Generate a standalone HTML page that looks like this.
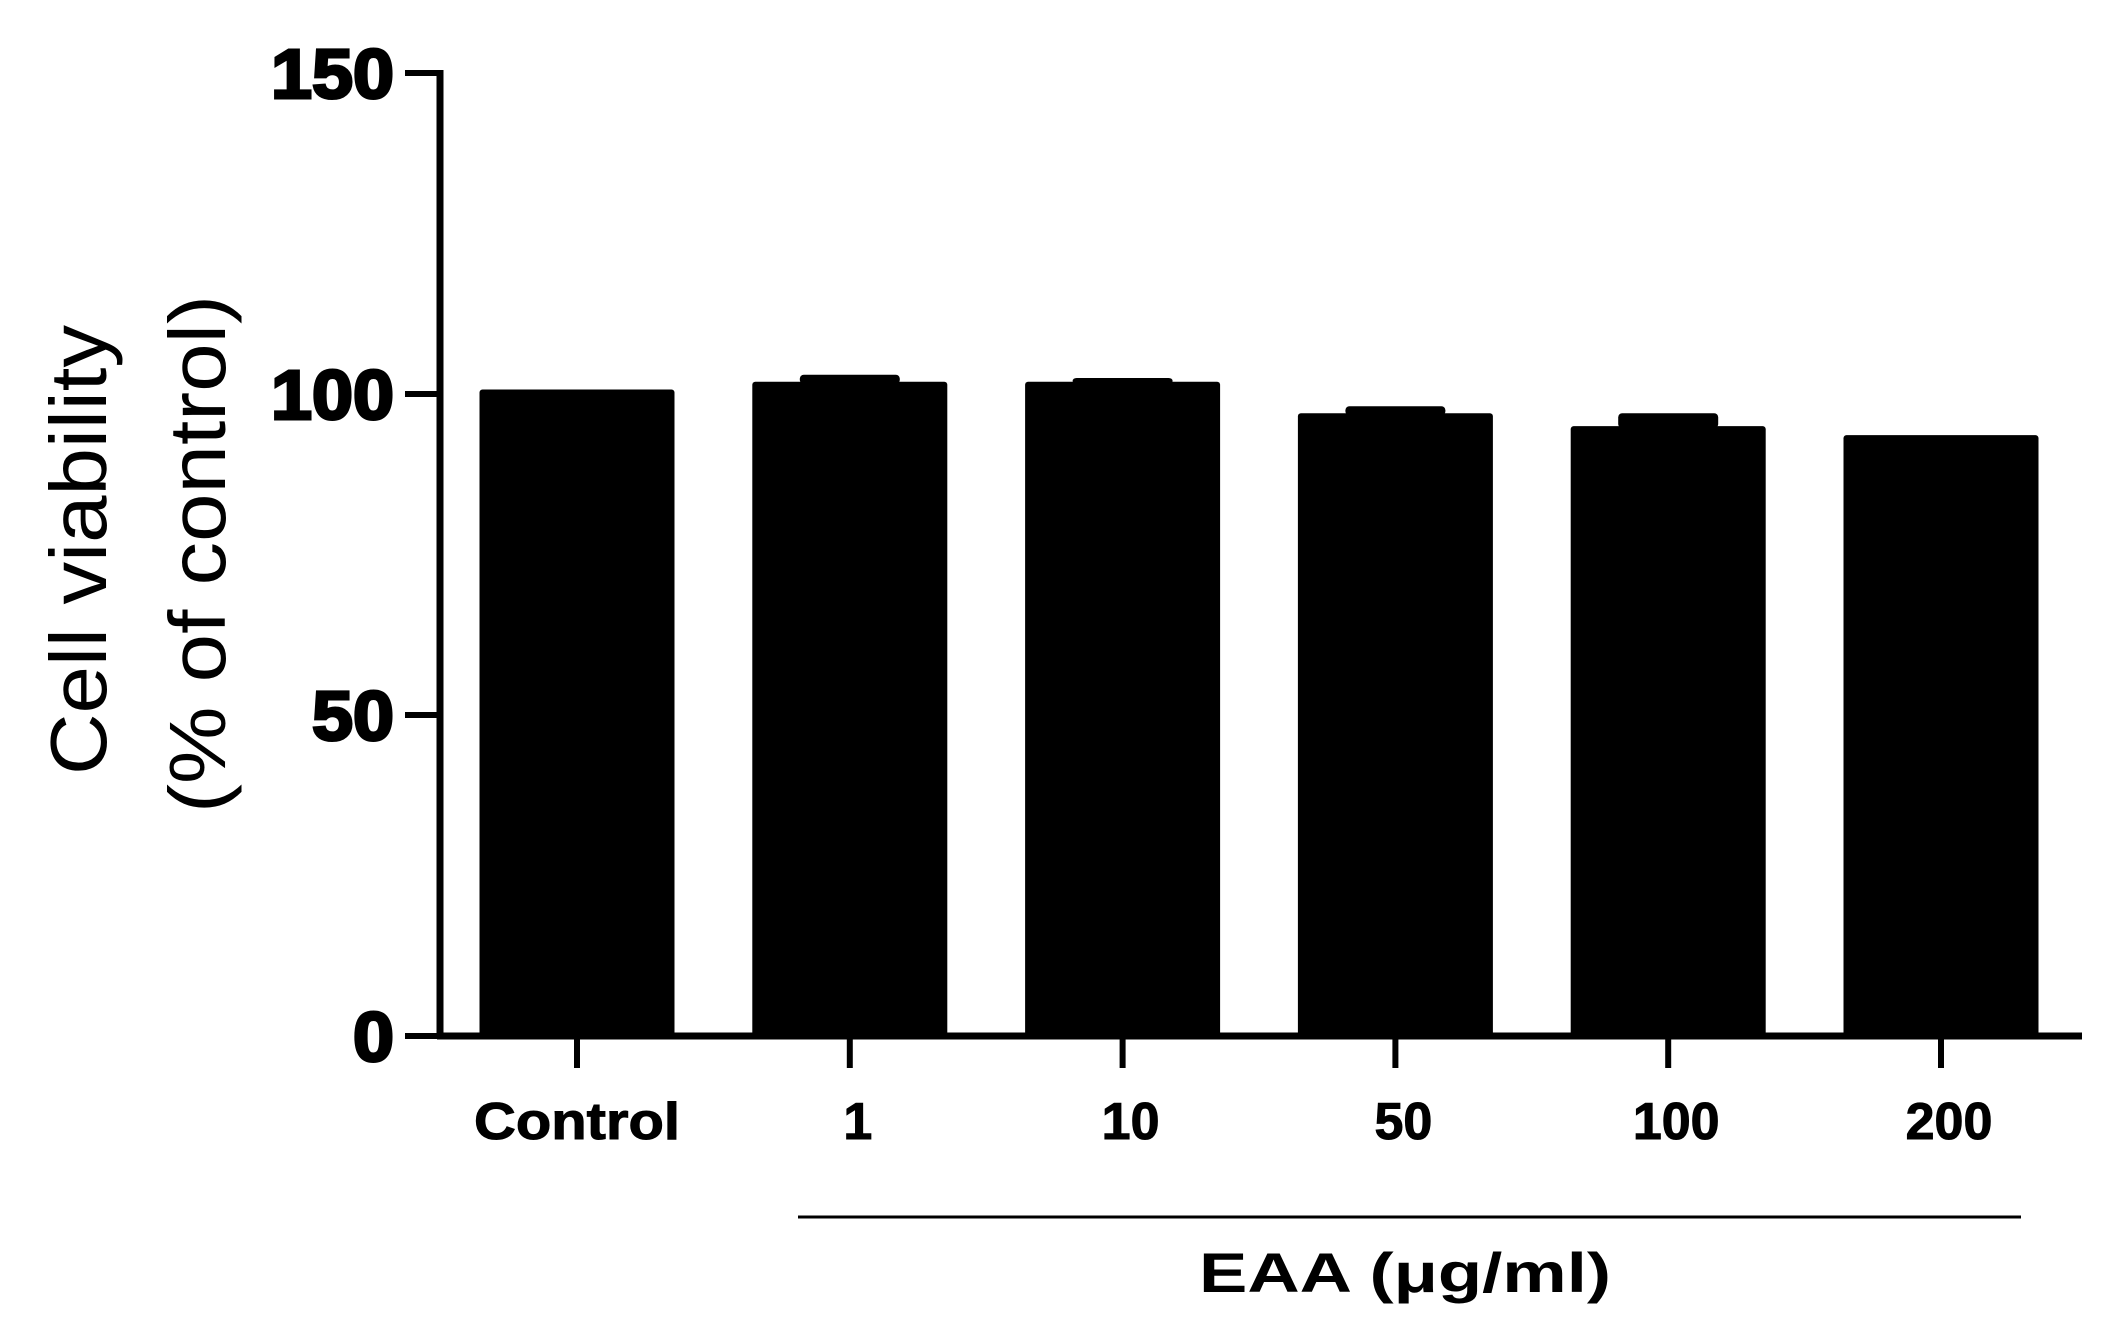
<!DOCTYPE html>
<html><head><meta charset="utf-8"><style>
html,body{margin:0;padding:0;background:#fff;}
svg{display:block;}
text{font-family:"Liberation Sans",Arial,sans-serif;fill:#000;}
</style></head><body>
<svg id="chart" width="2121" height="1342" viewBox="0 0 2121 1342" xmlns="http://www.w3.org/2000/svg">
<g id="yTitle">
<text x="0" y="0" transform="translate(106,550) rotate(-90)" text-anchor="middle" font-size="80" textLength="450" lengthAdjust="spacingAndGlyphs">Cell viability</text>
<text x="0" y="0" transform="translate(225,554) rotate(-90)" text-anchor="middle" font-size="80" textLength="518" lengthAdjust="spacingAndGlyphs">(% of control)</text>
</g>
<g id="axes"></g>
<g id="bars"></g>
<g id="xlabels"></g>
<line x1="798" y1="1217" x2="2021" y2="1217" stroke="#000" stroke-width="3"/>
<text x="1405" y="1292" text-anchor="middle" font-size="56" font-weight="bold" textLength="412" lengthAdjust="spacingAndGlyphs">EAA (μg/ml)</text>
</svg>
<script>
const categories = ["Control", "1", "10", "50", "100", "200"];
const values = [100.7, 101.9, 101.9, 97.0, 95.0, 93.6];
const errors = [0, 1.1, 0.6, 1.1, 2.0, 0];
const yTicks = [0, 50, 100, 150];

const NS = "http://www.w3.org/2000/svg";
const y0px = 1036, y150px = 73, axisX = 440, axisEnd = 2082;
const firstCenter = 577, step = 272.8, barW = 195;
function yScale(v){ return y0px - (v/150)*(y0px - y150px); }
function xScale(i){ return firstCenter + i*step; }
function mk(tag, attrs, parent){
  const e = document.createElementNS(NS, tag);
  for (const k in attrs) e.setAttribute(k, attrs[k]);
  parent.appendChild(e);
  return e;
}
const axes = document.getElementById("axes");
const bars = document.getElementById("bars");
const xl = document.getElementById("xlabels");

categories.forEach((c, i) => {
  const cx = xScale(i);
  const top = yScale(values[i]);
  const r = mk("rect", {x: cx - barW/2, y: top, width: barW, height: y0px - top, fill: "#000", rx: 3}, bars);
  
  
  if (errors[i] > 0) {
    const et = yScale(values[i] + errors[i]);
    const eb = mk("rect", {x: cx - 50, y: et, width: 100, height: top - et + 2, fill: "#000", rx: 4}, bars);
    
    
  }
  const t = mk("line", {x1: cx, x2: cx, y1: y0px, y2: y0px + 32, stroke: "#000", "stroke-width": 6}, axes);
  
  
  const lb = mk("text", {x: cx + (i === 0 ? 0 : 8), y: 1139, "text-anchor": "middle", "font-size": 52, "font-weight": "bold", stroke: "#000", "stroke-width": 1}, xl);
  lb.textContent = c;
  if (i === 0) { lb.setAttribute("textLength", 206); lb.setAttribute("lengthAdjust", "spacingAndGlyphs"); }
  
  
});

const ya = mk("line", {x1: axisX, x2: axisX, y1: y150px - 3, y2: y0px + 3, stroke: "#000", "stroke-width": 7}, axes);


const xa = mk("line", {x1: axisX - 3, x2: axisEnd, y1: y0px, y2: y0px, stroke: "#000", "stroke-width": 7}, axes);



yTicks.forEach(v => {
  const y = yScale(v);
  const tk = mk("line", {x1: 405, x2: axisX, y1: y, y2: y, stroke: "#000", "stroke-width": 6}, axes);
  
  
  const s = String(v);
  const tl = mk("text", {x: 394, y: y + 25, "text-anchor": "end", "font-size": 70, "font-weight": "bold", stroke: "#000", "stroke-width": 3, textLength: 41 * s.length, lengthAdjust: "spacingAndGlyphs"}, axes);
  tl.textContent = s;
  
  
});
</script>
</body></html>
